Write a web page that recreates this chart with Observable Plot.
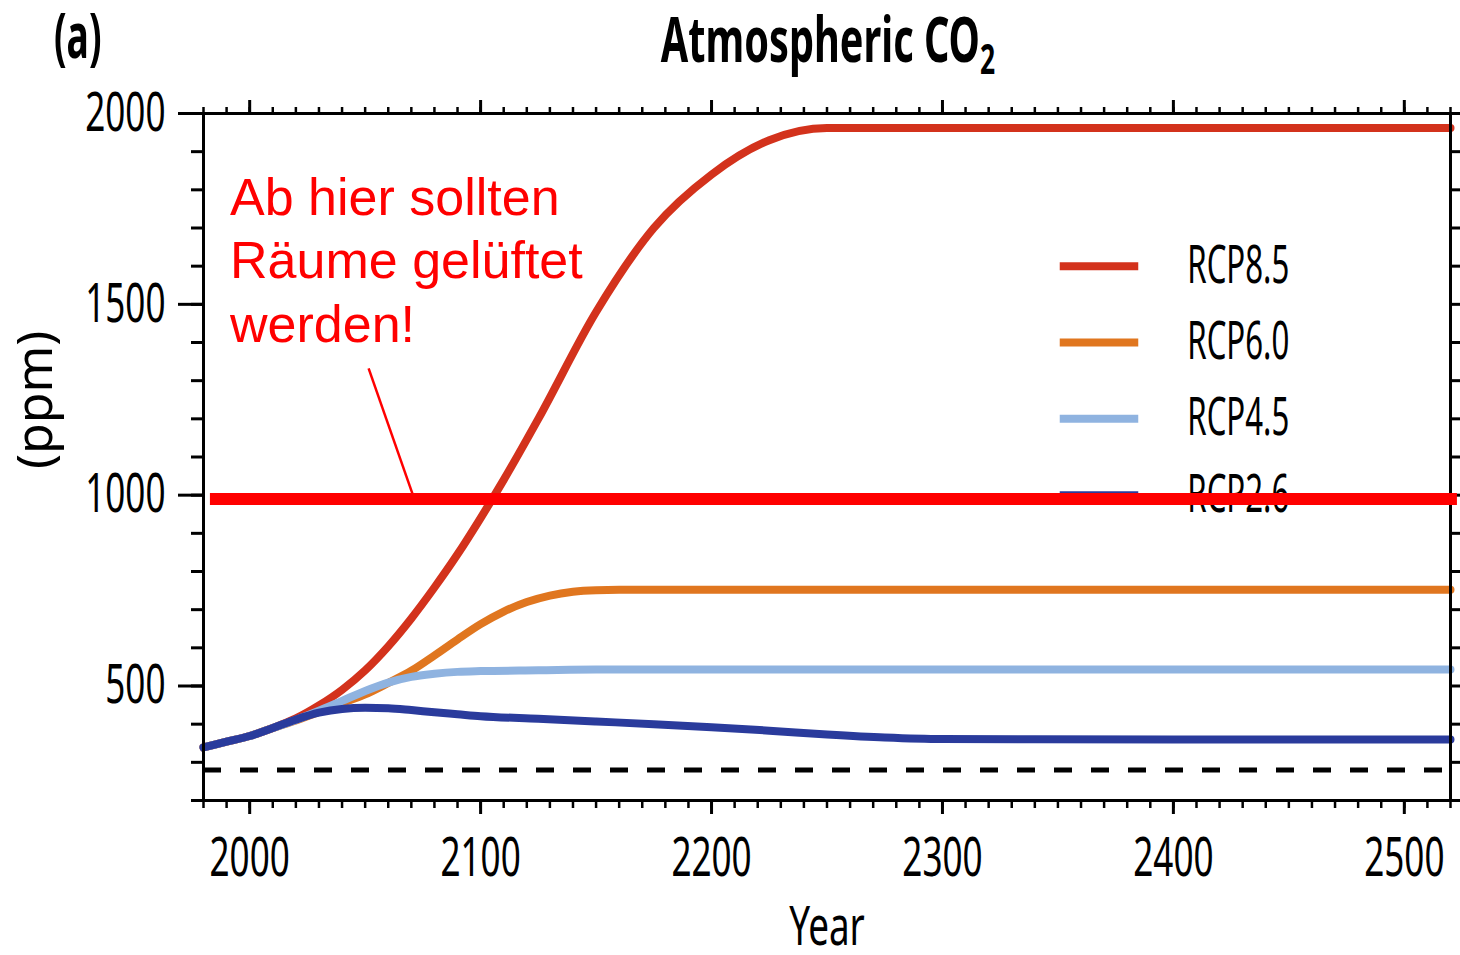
<!DOCTYPE html>
<html><head><meta charset="utf-8">
<script src="https://cdn.jsdelivr.net/npm/d3@7"></script>
<script src="https://cdn.jsdelivr.net/npm/@observablehq/plot@0.6"></script>
<style>body{margin:0;background:#fff;} #chart svg{display:block;}</style>
</head><body><div id="chart"></div>
<script>
// ---- data (ppm CO2) ----
const histYears = [1980, 1990, 2000, 2010];
const histCo2 = [339, 354, 369, 390];
const rcp85Years = [2020,2030,2040,2050,2060,2070,2080,2090,2100,2110,2125,2150,2175,2200,2225,2250,2300,2400,2520];
const rcp85Co2   = [415, 449, 490, 541, 604, 677, 758, 845, 940,1040,1200,1480,1700,1840,1930,1962,1962,1962,1962];
const rcp60Years = [2020,2030,2040,2050,2060,2070,2080,2090,2100,2110,2120,2130,2140,2150,2160,2200,2300,2400,2520];
const rcp60Co2   = [410, 432, 455, 478, 508, 540, 580, 622, 662, 695, 720, 737, 747, 751, 752, 752, 752, 752, 752];
const rcp45Years = [2020,2030,2040,2050,2060,2070,2080,2090,2100,2125,2150,2200,2300,2400,2520];
const rcp45Co2   = [411, 435, 461, 487, 509, 524, 532, 537, 539, 541, 543, 543, 543, 543, 543];
const rcp26Years = [2020,2030,2040,2050,2060,2070,2080,2090,2100,2125,2150,2175,2200,2225,2250,2275,2300,2400,2520];
const rcp26Co2   = [412, 430, 440, 443, 442, 437, 431, 426, 421, 414, 407, 400, 392, 383, 373, 365, 361, 360, 360];
const scenarioNames = ["RCP8.5", "RCP6.0", "RCP4.5", "RCP2.6"];
const scenarioColors = ["#d3321c", "#e0761f", "#8fb3e0", "#2a3b9c"];
const preindustrialCo2 = [280];
const thresholdCo2 = [990];
const xTicks = [2000, 2100, 2200, 2300, 2400, 2500];
const yTicks = [500, 1000, 1500, 2000];
const annotationText = ["Ab hier sollten\nRäume gelüftet\nwerden!"];

const seriesYears = [rcp85Years, rcp60Years, rcp45Years, rcp26Years];
const seriesCo2 = [rcp85Co2, rcp60Co2, rcp45Co2, rcp26Co2];
const series = scenarioNames.map((name, i) => ({
  name, color: scenarioColors[i],
  data: d3.zip(histYears.concat(seriesYears[i]), histCo2.concat(seriesCo2[i])).map(([year, co2]) => ({year, co2}))
}));

const font = "'Noto Sans', 'DejaVu Sans', sans-serif";
const minorX = d3.range(1980, 2521, 10);
const minorY = d3.range(200, 2001, 100);

const plot = Plot.plot({
  width: 1460, height: 955,
  marginLeft: 203, marginRight: 10, marginTop: 113, marginBottom: 155,
  style: {fontFamily: font, background: "white", overflow: "visible"},
  x: {domain: [1980, 2520], label: null},
  y: {domain: [200, 2000], label: null},
  marks: [
    Plot.ruleY(preindustrialCo2, {stroke: "black", strokeWidth: 5, strokeDasharray: "18,19"}),
    ...series.map(s => Plot.line(s.data, {x: "year", y: "co2", stroke: s.color, strokeWidth: 8, curve: "monotone-x"})),
    ...series.map((s, i) => Plot.ruleY([1600 - 200 * i], {x1: 2351, x2: 2385, stroke: s.color, strokeWidth: 8})),
    Plot.text(scenarioNames, {x: 2406, y: (d, i) => 1600 - 200 * i, text: d => d, textAnchor: "start", fontSize: 52}),
    Plot.frame({stroke: "black", strokeWidth: 3}),
    Plot.axisX({anchor: "bottom", ticks: minorX, tickSize: 8, tickFormat: () => "", strokeWidth: 2.5, label: null}),
    Plot.axisX({anchor: "bottom", ticks: xTicks, tickSize: 14, tickPadding: 23, fontSize: 54, strokeWidth: 3, tickFormat: d => String(d), label: null}),
    Plot.axisX({anchor: "top", ticks: minorX, tickSize: 7, tickFormat: () => "", strokeWidth: 2.5, label: null}),
    Plot.axisX({anchor: "top", ticks: xTicks, tickSize: 14, tickFormat: () => "", strokeWidth: 3, label: null}),
    Plot.axisY({anchor: "left", ticks: minorY, tickSize: 12, tickFormat: () => "", strokeWidth: 3, label: null}),
    Plot.axisY({anchor: "left", ticks: yTicks, tickSize: 25, tickPadding: 13, fontSize: 54, strokeWidth: 3, tickFormat: d => String(d), label: null}),
    Plot.axisY({anchor: "right", ticks: minorY, tickSize: 12, tickFormat: () => "", strokeWidth: 3, label: null}),
    Plot.text(["Year"], {frameAnchor: "bottom", lineAnchor: "top", dy: 105, fontSize: 55}),
    Plot.text(["(ppm)"], {x: 1980, y: 1250, dx: -168, rotate: -90, fontSize: 50}),
    Plot.ruleY(thresholdCo2, {x1: 1983, x2: 2523, stroke: "#ff0000", strokeWidth: 12}),
    Plot.link([0], {x1: 2051.5, y1: 1332, x2: 2071, y2: 995, stroke: "#ff0000", strokeWidth: 2.5}),
    Plot.text(annotationText, {x: 1991.5, y: 1852, textAnchor: "start", lineAnchor: "top", lineHeight: 1.22, fontSize: 52, fill: "#ff0000", fontFamily: "'Liberation Sans', Arial, sans-serif"})
  ]
});

// condense the black labels horizontally (the original uses a condensed face)
const condense = [[/^\d+$/, 0.65], [/^RCP/, 0.6], [/^Year$/, 0.67]];
d3.select(plot).selectAll("text").each(function () {
  const t = this.textContent;
  for (const [re, f] of condense) {
    if (re.test(t)) {
      this.setAttribute("transform", (this.getAttribute("transform") || "") + ` scale(${f},1)`);
      break;
    }
  }
});

const svg = d3.select(plot);
const title = svg.append("text")
  .attr("transform", "translate(828,62) scale(0.63,1)")
  .attr("text-anchor", "middle")
  .attr("font-family", font)
  .attr("font-weight", "bold")
  .attr("font-size", 63)
  .attr("fill", "black");
title.append("tspan").text("Atmospheric CO");
title.append("tspan").attr("font-size", 42).attr("dy", 12).text("2");

svg.append("text")
  .attr("transform", "translate(54,58) scale(0.6,1)")
  .attr("text-anchor", "start")
  .attr("font-family", font)
  .attr("font-weight", "bold")
  .attr("font-size", 62)
  .attr("fill", "black")
  .text("(a)");

document.getElementById("chart").append(plot);
</script></body></html>
